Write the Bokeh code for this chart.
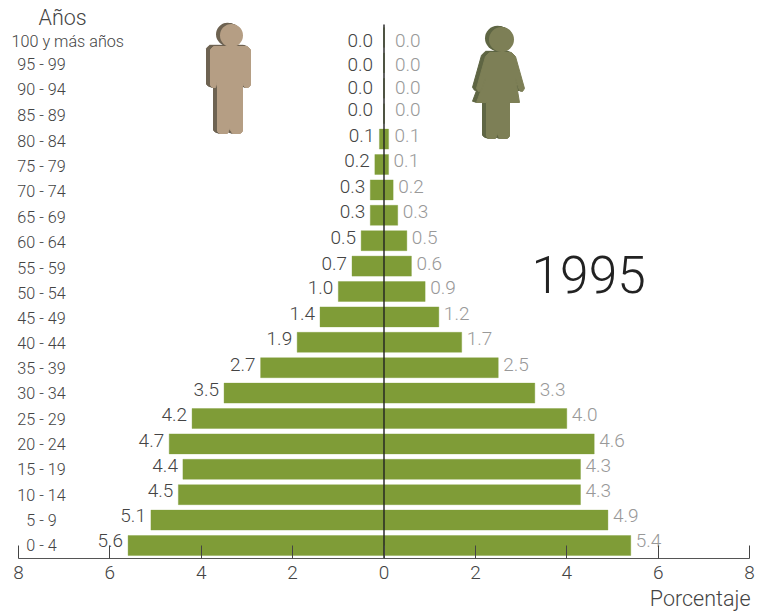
from bokeh.plotting import figure
from bokeh.models import FixedTicker, Title, ColumnDataSource
from bokeh.core.properties import value
from bokeh.embed import file_html
from bokeh.resources import INLINE

# ---------- data (youngest group first) ----------
age_groups = ["0 - 4", "5 - 9", "10 - 14", "15 - 19", "20 - 24", "25 - 29", "30 - 34",
              "35 - 39", "40 - 44", "45 - 49", "50 - 54", "55 - 59", "60 - 64", "65 - 69",
              "70 - 74", "75 - 79", "80 - 84", "85 - 89", "90 - 94", "95 - 99", "100 y más años"]
men = [5.6, 5.1, 4.5, 4.4, 4.7, 4.2, 3.5, 2.7, 1.9, 1.4, 1.0, 0.7, 0.5, 0.3, 0.3, 0.2, 0.1, 0.0, 0.0, 0.0, 0.0]
women = [5.4, 4.9, 4.3, 4.3, 4.6, 4.0, 3.3, 2.5, 1.7, 1.2, 0.9, 0.6, 0.5, 0.3, 0.2, 0.1, 0.1, 0.0, 0.0, 0.0, 0.0]
year = "1995"
x_ticks = [-8, -6, -4, -2, 0, 2, 4, 6, 8]

# ---------- layout (page pixels -> scales) ----------
W, FH, H = 757, 558, 612
X0, XU = 383.5, 45.7      # page x of value 0, px per unit
Y0, YU = 545.0, 25.4      # page y of row 0, px per row
def dx(px): return (px - X0) / XU
def dy(py): return (Y0 - py) / YU

GREEN, DARK, LIGHT = "#7f9c37", "#444444", "#999999"
FONT = "Roboto Light"

p = figure(width=W, height=H, frame_width=W, frame_height=FH,
           x_range=(dx(0), dx(W)), y_range=(dy(FH), dy(0)),
           output_backend="svg", toolbar_location=None, y_axis_location=None,
           min_border_left=0, min_border_right=0, min_border_top=0, min_border_bottom=H - FH)
p.grid.visible = False
p.outline_line_color = None
p.background_fill_color = "white"

# bars
rows = list(range(len(age_groups)))
src = ColumnDataSource(dict(y=rows, m=[-v for v in men], w=women))
p.hbar(y="y", left="m", right=0, height=20 / YU, source=src, fill_color=GREEN, line_color=GREEN,
       line_width=0.6, line_alpha=0.6)
p.hbar(y="y", left=0, right="w", height=20 / YU, source=src, fill_color=GREEN, line_color=GREEN,
       line_width=0.6, line_alpha=0.6)

# spine
p.segment(x0=[0], x1=[0], y0=[dy(558)], y1=[dy(24)], line_color="#222222", line_width=1.4)

# value labels: page y of each text, left-to-right gaps in px
lab_y = [540, 515, 490, 465, 440, 414, 389, 364, 338, 313, 287, 263, 237, 211, 186, 160, 135, 109, 87, 64, 40]
m_gap = [5] * 17 + [11] * 4
w_gap = [5] * 16 + [6] + [11] * 4
p.text(x=[-v for v in men], y=[dy(v) for v in lab_y], text=[f"{v:.1f}" for v in men],
       x_offset=[-g for g in m_gap], text_align="right", text_baseline="middle",
       text_font=value(FONT), text_font_size="19px", text_color=DARK)
p.text(x=women, y=[dy(v) for v in lab_y], text=[f"{v:.1f}" for v in women],
       x_offset=w_gap, text_align="left", text_baseline="middle",
       text_font=value(FONT), text_font_size="19px", text_color=LIGHT)

# age labels
age_y = [545, 520, 495, 469, 444, 419, 393, 368, 343, 318, 293, 268, 242, 217, 191, 166, 141, 115, 89, 64, 41]
p.text(x=[dx(41)] * 20, y=[dy(v) for v in age_y[:20]], text=age_groups[:20], text_align="center",
       text_baseline="middle", text_font=value(FONT), text_font_size="16.2px", text_color=DARK)
p.text(x=[dx(11)], y=[dy(age_y[20])], text=age_groups[20:], text_align="left",
       text_baseline="middle", text_font=value(FONT), text_font_size="16.2px", text_color=DARK)
p.text(x=[dx(38)], y=[dy(17)], text=["Años"], text_align="left", text_baseline="middle",
       text_font=value(FONT), text_font_size="21.5px", text_color=DARK)
p.text(x=[dx(531)], y=[dy(274)], text=[year], text_align="left", text_baseline="middle",
       text_font=value(FONT), text_font_size="51.5px", text_color="#222222")

# axis
ax = p.xaxis[0]
ax.ticker = FixedTicker(ticks=x_ticks)
ax.bounds = (-8, 8)
ax.major_label_overrides = {t: str(abs(t)) for t in x_ticks}
ax.major_tick_in, ax.major_tick_out = 13, 0
ax.minor_tick_line_color = None
ax.major_tick_line_color = "#444444"
ax.axis_line_color = "#555555"
ax.axis_line_width = 1.2
ax.major_label_text_font = FONT
ax.major_label_text_font_size = "19px"
ax.major_label_text_color = DARK
ax.major_label_standoff = 7

p.add_layout(Title(text="Porcentaje", align="right", offset=7, standoff=5, text_font=FONT,
                   text_font_style="normal", text_font_size="21.5px", text_color=DARK), "below")

# pictograms (page pixels)
man_x = [213, 247, 250, 250, 248, 245, 243, 242, 242, 240, 232, 229, 227, 219, 217, 217, 215, 212, 210, 210]
man_y = [46, 46, 49, 85, 87, 87, 85, 80, 131, 133, 133, 128, 133, 133, 131, 80, 87, 87, 85, 49]
wom_x = [489, 511, 515, 524, 522, 519, 515, 519, 509, 509, 507, 499, 497, 495, 488, 486, 486, 476, 485, 481, 478, 476, 485]
wom_y = [52, 52, 56, 88, 91, 90, 78, 102, 102, 136, 138, 138, 133, 138, 138, 136, 102, 102, 78, 90, 91, 88, 56]

def figure_icon(xs, ys, head, r, front, side, depth):
    hx, hy = head
    for k in range(depth, 0, -1):
        p.patch([dx(v - k) for v in xs], [dy(v - k * 0.3) for v in ys], fill_color=side, line_color=side, line_width=1)
        p.ellipse([dx(hx - k)], [dy(hy - k * 0.3)], width=2 * r / XU, height=2 * r / YU, fill_color=side, line_color=None)
    p.patch([dx(v) for v in xs], [dy(v) for v in ys], fill_color=front, line_color=front, line_width=1)
    p.ellipse([dx(hx)], [dy(hy)], width=2 * r / XU, height=2 * r / YU, fill_color=front, line_color=None)

figure_icon(man_x, man_y, (231, 35), 11.5, "#b59e84", "#6e6352", 4)
figure_icon(wom_x, wom_y, (501, 39), 12.5, "#7d7f56", "#5f6644", 4)

open("out.html", "w").write(file_html(p, INLINE))
